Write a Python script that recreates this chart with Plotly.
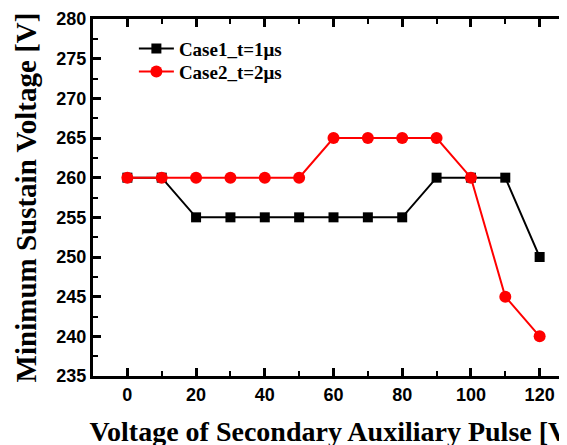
import plotly.graph_objects as go

voltage = [0, 10, 20, 30, 40, 50, 60, 70, 80, 90, 100, 110, 120]
case1 = [260, 260, 255, 255, 255, 255, 255, 255, 255, 260, 260, 260, 250]
case2 = [260, 260, 260, 260, 260, 260, 265, 265, 265, 265, 260, 245, 240]
x_ticks = [0, 20, 40, 60, 80, 100, 120]
y_ticks = [235, 240, 245, 250, 255, 260, 265, 270, 275, 280]

fig = go.Figure()
fig.add_trace(go.Scatter(
    x=voltage, y=case1, mode="lines+markers", name="<b>Case1_t=1\u03bcs</b>",
    line=dict(color="black", width=2), legend="legend",
    marker=dict(symbol="square", size=10, color="black")))
fig.add_trace(go.Scatter(
    x=voltage, y=case2, mode="lines+markers", name="<b>Case2_t=2\u03bcs</b>",
    line=dict(color="red", width=2), legend="legend2",
    marker=dict(symbol="circle", size=12, color="red")))

axis_common = dict(
    showgrid=False, zeroline=False, showline=True, linecolor="black", linewidth=3,
    mirror="ticks", ticks="inside", ticklen=8, tickwidth=3, tickcolor="black",
    automargin=False,
    tickfont=dict(family="Liberation Sans, Arial", size=18, color="black"),
)

fig.update_xaxes(
    range=[-10, 130], tickvals=x_ticks, ticktext=[f"<b>{v}</b>" for v in x_ticks],
    minor=dict(dtick=10, ticks="inside", ticklen=5, tickwidth=2, tickcolor="black"),
    title=dict(text="<b>Voltage of Secondary Auxiliary Pulse [V]</b>",
               font=dict(family="Liberation Serif, Times New Roman", size=28, color="black"),
               standoff=18),
    **axis_common)
fig.update_yaxes(
    range=[235, 280], tickvals=y_ticks, ticktext=[f"<b>{v}</b>" for v in y_ticks],
    minor=dict(dtick=2.5, ticks="inside", ticklen=5, tickwidth=2, tickcolor="black"),
    title=dict(text="<b>Minimum Sustain Voltage [V]</b>",
               font=dict(family="Liberation Serif, Times New Roman", size=29, color="black"),
               standoff=12),
    **axis_common)

legend_style = dict(xanchor="left", yanchor="top", bgcolor="rgba(0,0,0,0)", itemwidth=35,
                    font=dict(family="Liberation Serif, Times New Roman", size=19, color="black"))

fig.update_layout(
    width=567, height=445,
    margin=dict(l=85, r=1, t=11, b=77),
    plot_bgcolor="white", paper_bgcolor="white",
    showlegend=True,
    legend=dict(x=0.085, y=0.97, **legend_style),
    legend2=dict(x=0.085, y=0.906, **legend_style),
)

fig.write_html("out.html")
